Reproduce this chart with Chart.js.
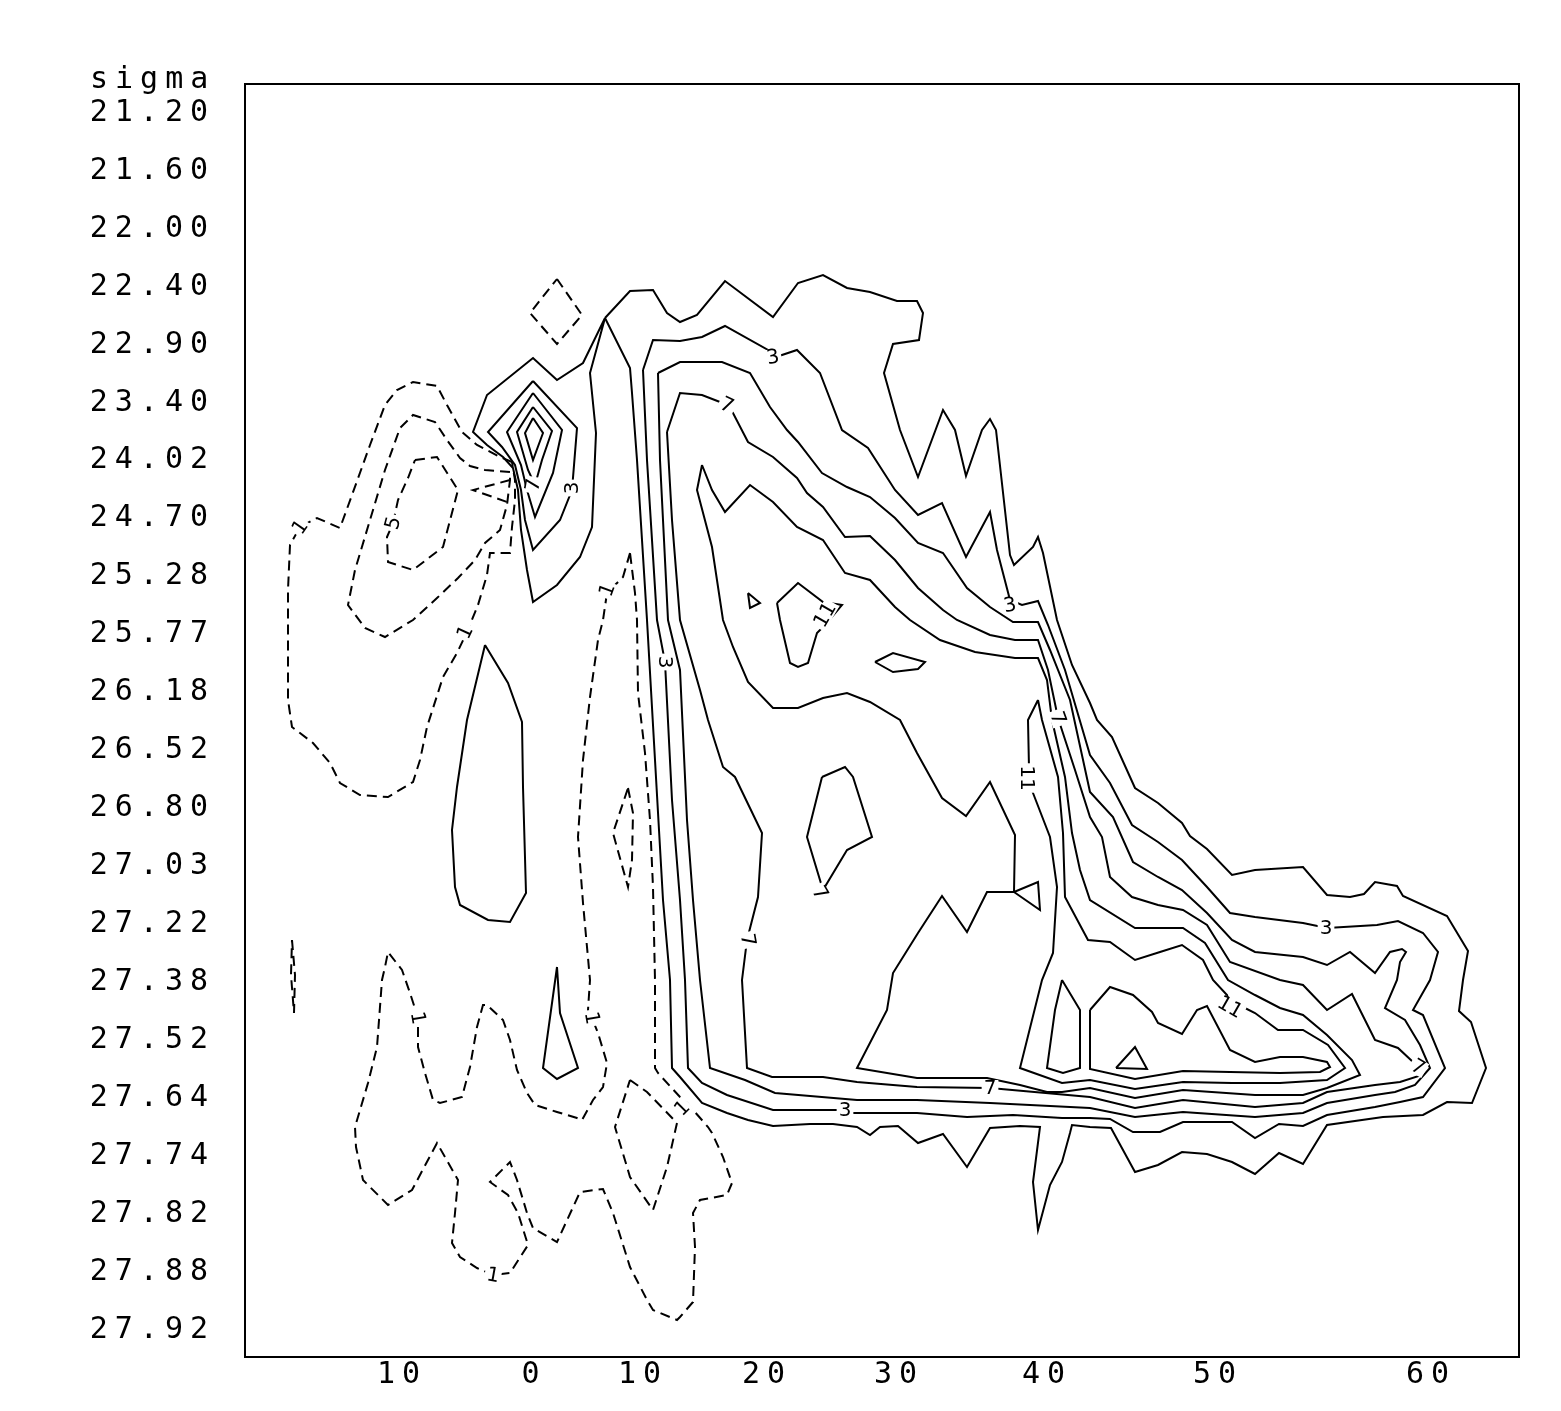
<!DOCTYPE html>
<html><head><meta charset="utf-8">
<script src="https://cdn.jsdelivr.net/npm/chart.js@4"></script>
<style>html,body{margin:0;padding:0;background:#fff}canvas{display:block}</style>
</head><body>
<canvas id="c" width="1561" height="1411"></canvas>
<script>
// ---- axes ----
const yAxisTitle = 'sigma';
const sigmaLabels = ['21.20','21.60','22.00','22.40','22.90','23.40','24.02','24.70','25.28','25.77','26.18','26.52','26.80','27.03','27.22','27.38','27.52','27.64','27.74','27.82','27.88','27.92'];
const sigmaTickPos = sigmaLabels.map((_, i) => 2.9 + 5.795 * i);
const latLabels = ['10','0','10','20','30','40','50','60'];
const latTickPos = [15.7, 28.9, 39.8, 52.2, 65.4, 80.2, 97.3, 118.6];

// ---- dashed (negative) contours ----
const negDiamondTop = [[31.2,19.5],[33.7,23.1],[31.2,26.0],[28.5,22.9],[31.2,19.5]];
const negOuter = [[26.7,37.8],[25.5,37.3],[23.2,36.1],[21.7,34.8],[20.2,32.1],[19.2,30.2],[16.8,29.8],[15.2,30.6],[14.0,32.1],[12.5,36.1],[10.7,41.1],[9.5,44.4],[7.2,43.4],[5.5,44.3],[4.5,46.1],[4.3,50.6],[4.3,57.6],[4.3,61.6],[4.7,64.3],[6.8,65.9],[8.5,67.9],[9.5,69.9],[11.5,71.1],[14.3,71.3],[16.8,69.8],[17.5,67.6],[18.2,64.3],[19.8,59.3],[21.2,56.9],[22.2,54.8],[23.3,52.1],[24.2,49.1],[24.5,46.9],[26.5,46.9],[26.7,44.3],[27.0,41.6],[27.0,39.6],[26.7,37.8]];
const negMid = [[26.5,38.8],[24.0,38.6],[22.5,38.2],[21.5,37.4],[20.2,35.6],[19.0,33.8],[16.8,33.1],[15.5,34.4],[14.0,38.6],[12.5,43.6],[11.0,48.6],[10.3,52.1],[12.0,54.4],[14.0,55.3],[16.8,53.6],[19.2,51.4],[21.3,49.4],[23.0,47.6],[24.0,45.9],[25.5,44.6],[26.2,42.1],[26.5,39.6],[26.5,38.8]];
const negLow = [[17.0,37.6],[19.2,37.3],[21.3,40.6],[19.8,46.3],[16.8,48.6],[14.3,47.8],[14.2,45.3],[14.8,43.9],[15.3,41.6],[16.3,39.4],[17.0,37.6]];
const negWedge = [[26.5,39.6],[22.8,40.6],[26.5,41.9]];
const negLongLoop = [[38.5,46.9],[37.8,49.3],[36.2,50.9],[35.8,53.6],[35.3,55.6],[34.5,61.3],[33.8,67.6],[33.3,75.3],[33.8,81.9],[34.5,89.6],[34.3,92.6],[34.7,93.4],[35.3,94.9],[36.2,97.9],[35.8,100.3],[34.8,101.6],[33.7,103.6],[33.2,103.4],[31.2,102.8],[29.0,102.1],[28.2,100.9],[27.2,98.6],[26.5,95.6],[25.8,93.6],[24.2,92.1],[23.8,92.1],[23.2,94.3],[22.5,98.3],[21.7,101.3],[19.5,101.9],[18.8,101.6],[18.0,98.9],[17.3,96.3],[17.3,93.4],[16.5,90.9],[15.7,88.6],[14.3,86.8],[14.0,88.3],[13.7,89.6],[13.2,96.3],[12.3,99.9],[11.0,104.3],[11.1,106.3],[11.8,109.6],[14.3,112.1],[16.7,110.6],[19.2,105.9],[21.3,109.6],[21.0,112.9],[20.7,115.9],[21.5,117.3],[23.2,118.4],[24.8,119.1],[26.5,118.9],[28.3,116.1],[27.3,112.9],[26.3,111.1],[24.5,109.8],[26.5,107.8],[27.2,109.6],[28.2,112.9],[28.8,114.4],[31.2,115.8],[33.5,110.8],[35.8,110.5],[36.8,112.9],[38.5,118.3],[40.2,121.6],[40.8,122.6],[43.2,123.6],[43.5,123.3],[44.8,121.8],[45.0,116.3],[44.8,112.9],[45.5,111.6],[48.2,111.1],[48.7,109.9],[47.8,107.3],[46.7,104.9],[46.3,104.3],[44.2,101.9],[43.5,101.3],[41.3,98.9],[41.0,98.4],[41.0,89.6],[40.8,80.3],[40.5,73.6],[40.0,66.9],[39.3,60.9],[39.2,53.6],[39.0,50.9],[38.5,46.9]];
const negSmallDiamond = [[38.3,70.4],[38.8,72.9],[38.7,77.6],[38.3,80.3],[36.8,74.9],[38.3,70.4]];
const negBottomDiamond = [[38.5,99.6],[40.2,100.8],[43.2,103.9],[42.2,108.3],[40.8,112.6],[38.5,109.3],[37.0,104.3],[38.5,99.6]];
const negTinyLeft = [[4.7,85.6],[5.0,89.1],[4.9,92.9],[4.6,89.1],[4.7,85.6]];

// ---- solid (positive) contours ----
const peakLevel1 = [[36.0,23.4],[33.8,27.9],[31.2,29.6],[28.8,27.4],[24.2,31.1],[22.8,34.8],[24.2,36.1],[25.8,37.3],[26.8,38.4],[27.3,40.6],[27.6,44.6],[28.2,48.6],[28.8,51.8],[31.2,50.1],[33.5,47.3],[34.7,44.3],[35.1,34.9],[34.5,28.9],[36.0,23.4]];
const peakLevel3 = [[28.8,29.7],[33.2,34.4],[32.7,40.6],[31.5,43.6],[28.8,46.6],[28.0,43.6],[27.6,40.6],[27.0,38.1],[25.7,36.3],[24.3,34.8],[28.8,29.7]];
const peakLevel5 = [[28.8,30.9],[31.7,34.6],[30.8,38.9],[29.0,43.3],[28.2,40.6],[27.6,38.1],[26.2,34.8],[28.8,30.9]];
const peakLevel7 = [[28.8,32.3],[30.7,34.7],[29.7,37.6],[29.0,40.1],[28.3,38.6],[27.2,34.8],[28.8,32.3]];
const peakLevel9 = [[28.8,33.4],[29.8,34.9],[28.8,37.6],[28.0,34.9],[28.8,33.4]];

const mainLevel1 = [[36.0,23.4],[38.5,20.7],[40.8,20.6],[42.2,22.9],[43.5,23.8],[45.2,23.1],[48.0,19.7],[52.8,23.3],[55.3,19.9],[57.8,19.1],[60.2,20.4],[62.5,20.8],[65.2,21.7],[67.2,21.7],[67.8,22.9],[67.4,25.6],[64.8,26.0],[63.9,28.9],[65.5,34.6],[67.3,39.3],[69.8,32.6],[71.0,34.6],[72.1,39.2],[73.7,34.6],[74.5,33.5],[75.1,34.6],[76.5,47.1],[76.9,48.1],[78.8,46.3],[79.3,45.3],[79.8,46.9],[81.2,53.6],[82.7,58.1],[84.5,61.9],[85.2,63.6],[86.7,65.3],[89.0,70.4],[91.3,71.9],[93.7,73.9],[94.5,75.2],[96.2,76.5],[98.7,79.1],[101.0,78.6],[105.8,78.3],[108.2,81.1],[110.5,81.3],[111.9,81.0],[113.0,79.8],[115.2,80.2],[115.8,81.2],[120.2,83.2],[122.3,86.7],[121.8,89.6],[121.4,92.7],[122.6,93.8],[124.1,98.4],[122.7,101.9],[120.2,101.8],[117.8,103.1],[113.8,103.3],[108.2,104.1],[105.8,108.0],[103.4,106.9],[101.0,109.0],[98.7,107.8],[96.2,107.0],[93.7,106.8],[91.3,108.1],[89.0,108.8],[86.6,104.4],[84.5,104.3],[82.7,104.1],[82.5,104.9],[81.7,107.8],[80.5,110.1],[79.3,114.6],[78.8,109.8],[79.5,104.3],[77.5,104.2],[74.5,104.4],[72.2,108.3],[69.8,105.0],[67.3,105.9],[65.3,104.2],[63.5,104.3],[62.5,105.1],[61.2,104.3],[58.8,104.0],[56.5,104.0],[52.8,104.2],[50.3,103.6],[48.2,102.9],[45.7,101.9],[43.5,99.3],[42.7,98.4],[42.5,89.6],[41.8,81.6],[41.0,67.6],[40.2,53.6],[39.2,37.6],[38.7,30.9],[38.5,28.4],[36.0,23.4]];
const mainLevel3 = [[39.8,28.6],[40.8,25.6],[43.5,25.7],[45.7,25.3],[48.0,24.2],[52.3,26.6],[52.8,27.4],[55.2,26.6],[57.5,28.9],[59.7,34.6],[62.3,36.4],[65.0,40.6],[67.3,43.1],[69.7,41.9],[72.1,47.3],[74.5,42.8],[75.2,46.6],[76.5,51.6],[77.7,52.1],[79.3,51.7],[80.3,54.1],[82.0,58.6],[84.5,67.1],[86.5,69.9],[88.7,74.1],[91.3,75.8],[93.7,77.6],[96.2,80.3],[98.5,82.9],[101.0,83.3],[105.8,83.9],[108.2,84.4],[113.2,84.1],[115.3,83.7],[117.8,84.9],[119.3,86.8],[118.5,89.6],[116.8,92.6],[117.8,93.1],[120.0,98.4],[117.8,101.3],[115.5,101.8],[113.0,102.3],[108.2,103.1],[105.8,104.2],[103.4,104.0],[101.0,105.4],[98.7,103.8],[93.8,103.8],[91.5,104.8],[88.8,104.8],[86.5,103.5],[84.5,103.4],[81.7,103.4],[76.8,103.1],[72.2,103.3],[67.2,102.9],[60.8,102.9],[60.0,102.6],[52.8,102.6],[48.2,101.1],[45.7,99.9],[44.3,98.4],[44.0,89.6],[43.5,81.6],[42.7,71.6],[42.0,57.8],[41.2,53.6],[40.2,37.6],[39.8,28.6]];
const mainLevel5 = [[41.3,28.9],[43.5,27.8],[47.7,27.8],[50.5,28.9],[52.5,32.3],[54.2,34.6],[55.3,35.8],[57.7,38.9],[60.2,40.3],[62.5,41.3],[65.0,43.4],[67.3,45.9],[69.8,46.9],[72.2,50.4],[74.5,52.3],[76.8,53.8],[79.3,53.8],[80.5,56.6],[82.5,61.6],[84.5,70.8],[86.8,73.3],[88.8,77.8],[91.3,79.3],[93.7,80.6],[96.2,82.9],[98.7,85.6],[101.0,86.8],[105.8,87.3],[108.2,88.1],[110.5,86.8],[113.0,88.9],[114.5,86.8],[115.7,86.5],[116.1,86.8],[115.5,87.8],[115.2,89.6],[114.0,92.4],[116.0,93.6],[117.5,96.1],[118.5,98.4],[117.0,100.1],[115.0,100.8],[113.0,101.1],[108.2,101.9],[105.8,102.9],[101.0,103.3],[93.8,102.8],[89.0,103.3],[84.5,102.4],[74.5,101.9],[67.2,101.6],[61.2,101.6],[53.0,100.9],[50.0,99.6],[46.5,98.4],[45.5,89.6],[44.8,81.6],[44.2,73.6],[43.5,58.6],[42.3,53.6],[41.5,37.6],[41.3,28.9]];
const mainLevel7 = [[42.2,34.8],[43.5,30.9],[45.7,31.1],[47.5,31.8],[48.2,32.1],[48.8,32.9],[50.3,35.8],[52.8,37.3],[55.2,39.4],[56.2,40.9],[57.8,42.3],[60.0,45.3],[62.5,45.2],[65.0,47.6],[67.3,50.4],[69.8,52.6],[71.2,53.6],[74.5,55.1],[77.0,55.6],[79.3,55.6],[80.3,58.6],[81.3,63.4],[83.0,68.6],[84.5,73.3],[85.7,75.3],[86.5,79.3],[88.7,81.3],[91.3,82.1],[93.8,82.6],[96.2,84.1],[98.5,87.8],[103.5,89.6],[105.8,90.1],[108.2,92.6],[110.7,91.0],[112.0,93.6],[113.0,95.6],[115.3,96.4],[116.8,97.8],[117.3,98.3],[117.7,99.1],[115.5,99.8],[113.0,100.1],[108.2,100.8],[105.8,101.9],[101.0,102.3],[93.8,101.6],[89.0,102.4],[84.5,101.3],[74.5,100.4],[67.2,100.3],[61.2,99.8],[57.8,99.3],[52.7,99.3],[50.2,98.4],[49.7,89.6],[50.2,85.6],[51.3,81.3],[51.7,74.9],[49.0,69.3],[47.8,68.3],[46.3,63.6],[45.5,60.6],[43.5,53.6],[42.7,43.6],[42.2,34.8]];
const mainLevel9 = [[45.7,38.1],[46.7,40.6],[48.0,42.8],[50.5,40.1],[52.8,41.8],[55.2,44.3],[57.8,45.6],[60.0,48.9],[62.5,49.6],[65.0,52.3],[66.5,53.6],[69.5,55.6],[73.0,56.8],[77.0,57.4],[79.3,57.4],[80.2,59.6],[80.7,63.6],[82.0,69.3],[82.7,74.9],[83.5,78.6],[84.5,81.6],[89.0,84.4],[93.8,84.4],[96.0,85.9],[98.3,89.6],[101.0,91.1],[103.5,92.4],[105.8,93.1],[108.2,95.1],[110.7,97.6],[111.5,99.1],[108.2,100.4],[105.8,101.1],[101.0,101.1],[93.8,100.6],[89.0,101.4],[84.5,100.4],[81.7,100.8],[80.2,100.8],[77.5,100.1],[74.2,99.4],[67.2,99.4],[61.2,98.4],[64.2,92.6],[64.8,88.9],[67.3,84.9],[69.7,81.2],[72.2,84.8],[74.2,80.8],[76.9,80.8],[77.0,75.1],[74.5,69.8],[72.1,73.2],[69.7,71.4],[67.2,66.9],[65.5,63.6],[62.5,61.8],[60.2,60.9],[57.8,61.4],[55.3,62.4],[52.8,62.4],[50.3,59.8],[48.8,56.3],[47.8,53.6],[46.7,46.3],[45.2,40.6],[45.7,38.1]];
const mainLevel11 = [[79.3,61.6],[79.7,63.6],[81.3,69.3],[81.8,74.9],[82.0,81.3],[84.3,85.6],[86.5,85.8],[89.0,87.6],[91.5,86.8],[93.7,86.1],[95.8,87.6],[96.8,89.6],[98.2,91.1],[98.5,92.2],[100.0,92.4],[101.0,92.9],[103.3,94.6],[105.8,94.6],[108.3,96.1],[110.0,98.4],[108.2,99.6],[103.5,99.9],[98.7,99.9],[93.8,99.8],[89.0,100.5],[84.5,99.6],[81.7,99.9],[77.5,98.4],[79.7,89.6],[80.8,86.9],[81.2,80.3],[80.5,75.3],[78.8,70.9],[78.2,69.4],[78.4,68.4],[78.3,63.6],[79.3,61.6]];
const mainLevel13 = [[84.5,92.6],[86.5,90.3],[88.8,91.1],[90.7,92.8],[91.3,93.9],[93.7,95.0],[95.2,92.6],[96.2,92.2],[98.5,96.6],[101.0,97.8],[103.5,97.3],[105.8,97.3],[108.2,97.8],[108.5,98.3],[107.5,98.8],[103.5,98.9],[98.5,98.8],[93.8,98.7],[89.0,99.5],[84.5,98.5],[84.5,92.6]];
const mainLevel15 = [[87.1,98.4],[89.0,96.3],[90.2,98.5],[87.1,98.4]];
const dropLeft = [[24.0,56.1],[26.3,59.9],[27.7,63.8],[27.8,70.3],[28.1,80.9],[26.5,83.8],[24.3,83.6],[21.5,82.1],[21.0,80.3],[20.7,74.6],[21.2,70.3],[22.2,63.6],[24.0,56.1]];
const spikeLower = [[31.2,88.3],[31.5,92.9],[33.3,98.4],[31.2,99.5],[29.8,98.4],[31.2,88.3]];
const tinyTriangle = [[50.3,50.9],[51.5,51.9],[50.5,52.4],[50.3,50.9]];
const high11 = [[53.2,51.9],[55.3,49.9],[57.8,51.8],[59.7,52.1],[58.0,54.1],[57.2,54.9],[56.3,57.9],[55.3,58.3],[54.5,57.9],[53.5,53.6],[53.2,51.9]];
const smallQuad = [[63.0,57.8],[64.8,56.9],[68.0,57.8],[67.3,58.5],[64.8,58.8],[63.0,57.8]];
const low7 = [[57.7,69.3],[60.0,68.3],[60.8,69.3],[62.7,75.3],[60.2,76.6],[57.8,80.6],[56.2,75.3],[57.7,69.3]];
const triRight = [[76.9,80.8],[79.3,79.8],[79.5,82.6],[76.9,80.8]];
const narrowTri = [[81.7,89.6],[83.5,92.6],[83.5,98.4],[81.8,98.9],[80.2,98.4],[81.0,92.6],[81.7,89.6]];

const dashedContours = [negDiamondTop, negOuter, negMid, negLow, negWedge, negLongLoop, negSmallDiamond, negBottomDiamond, negTinyLeft];
const solidContours = [peakLevel1, peakLevel3, peakLevel5, peakLevel7, peakLevel9, mainLevel1, mainLevel3, mainLevel5, mainLevel7, mainLevel9, mainLevel11, mainLevel13, mainLevel15, dropLeft, spikeLower, tinyTriangle, high11, smallQuad, low7, triRight, narrowTri];

// contour labels: text, x, y, angle
const contourLabels = [
  ['3',52.8,27.3,-10],['7',48.2,32.1,25],['3',32.7,40.4,-90],['7',28.8,40.1,-80],['5',14.8,43.9,-75],
  ['1',5.5,44.3,-55],['1',22.0,54.8,-65],['1',36.2,50.6,-70],['11',58.0,53.1,-60],['3',76.5,52.1,-10],
  ['3',42.0,57.8,90],['7',81.3,63.4,70],['11',78.2,69.4,90],['7',57.5,80.9,60],['7',50.3,85.6,80],
  ['3',108.1,84.4,0],['11',98.5,92.3,30],['1',17.3,93.4,80],['1',34.7,93.4,80],['7',117.3,98.3,30],
  ['7',74.5,100.4,0],['3',60.0,102.6,0],['1',43.7,102.4,-45],['1',24.8,119.1,10]
];

const toPts = arr => arr.map(([x, y]) => ({x, y}));
const datasets = [];
dashedContours.forEach(c => datasets.push({data: toPts(c), borderDash: [10, 6]}));
solidContours.forEach(c => datasets.push({data: toPts(c), borderDash: []}));
datasets.forEach(d => Object.assign(d, {showLine: true, borderColor: '#000', borderWidth: 2, pointRadius: 0, tension: 0, fill: false}));

const tickFont = {family: 'DejaVu Sans Mono', size: 30};

const framePlugin = {
  id: 'frame',
  beforeDraw(chart) { chart.ctx.letterSpacing = '7px'; },
  beforeDatasetsDraw(chart) { chart.ctx.letterSpacing = '0px'; },
  afterDatasetsDraw(chart) {
    const {ctx, scales: {x, y}} = chart;
    ctx.save();
    ctx.letterSpacing = '0px';
    ctx.font = '20px "DejaVu Sans"';
    ctx.textAlign = 'center';
    ctx.textBaseline = 'middle';
    contourLabels.forEach(([t, lx, ly, a]) => {
      const px = x.getPixelForValue(lx), py = y.getPixelForValue(ly);
      ctx.save();
      ctx.translate(px, py);
      ctx.rotate(a * Math.PI / 180);
      const w = ctx.measureText(t).width + 4;
      ctx.fillStyle = '#fff';
      ctx.fillRect(-w / 2, -8, w, 16);
      ctx.fillStyle = '#000';
      ctx.fillText(t, 0, 1);
      ctx.restore();
    });
    ctx.restore();
  },
  afterDraw(chart) {
    const {ctx, chartArea: a} = chart;
    ctx.save();
    ctx.letterSpacing = '0px';
    ctx.strokeStyle = '#000';
    ctx.lineWidth = 2;
    ctx.strokeRect(a.left, a.top, a.right - a.left, a.bottom - a.top);
    ctx.letterSpacing = '7px';
    ctx.font = '30px "DejaVu Sans Mono"';
    ctx.fillStyle = '#000';
    ctx.textAlign = 'left';
    ctx.textBaseline = 'alphabetic';
    ctx.fillText(yAxisTitle, 90, 88);
    ctx.restore();
  }
};

new Chart(document.getElementById('c'), {
  type: 'scatter',
  data: {datasets},
  plugins: [framePlugin],
  options: {
    responsive: false,
    animation: false,
    devicePixelRatio: 1,
    layout: {padding: {top: 84, right: 42, left: 0, bottom: 0}},
    plugins: {legend: {display: false}, tooltip: {enabled: false}},
    scales: {
      x: {
        type: 'linear', min: 0, max: 127.4, bounds: 'data',
        afterBuildTicks: s => { s.ticks = latTickPos.map(v => ({value: v})); },
        afterFit: s => { s.height = 54; },
        grid: {display: false, drawTicks: false},
        border: {display: false},
        ticks: {autoSkip: false, maxRotation: 0, minRotation: 0, padding: 0, color: '#000', font: tickFont,
                callback: (v, i) => latLabels[i]}
      },
      y: {
        type: 'linear', min: 0, max: 127.3, reverse: true, bounds: 'data',
        afterBuildTicks: s => { s.ticks = sigmaTickPos.map(v => ({value: v})); },
        afterFit: s => { s.width = 245; },
        grid: {display: false, drawTicks: false},
        border: {display: false},
        ticks: {autoSkip: false, padding: 30, color: '#000', font: tickFont,
                callback: (v, i) => sigmaLabels[i]}
      }
    }
  }
});
</script>
</body></html>
